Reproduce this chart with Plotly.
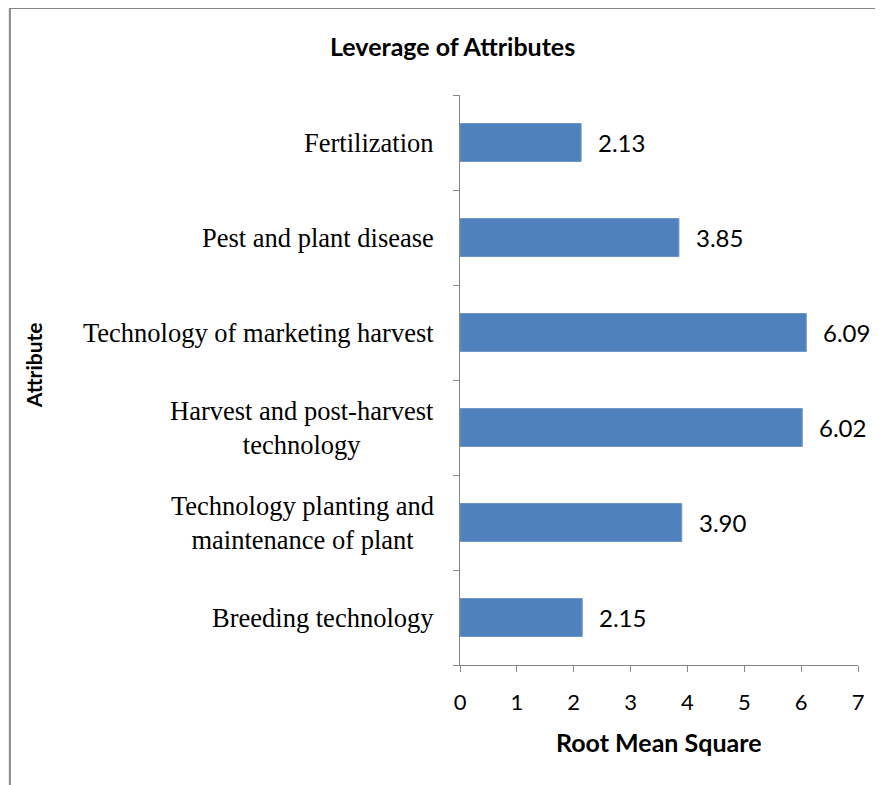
import plotly.graph_objects as go

categories = ["Breeding technology",
              "Technology planting and<br>maintenance of plant",
              "Harvest and post-harvest<br>technology",
              "Technology of marketing harvest",
              "Pest and plant disease",
              "Fertilization"]
values = [2.15, 3.90, 6.02, 6.09, 3.85, 2.13]
value_labels = ["2.15", "3.90", "6.02", "6.09", "3.85", "2.13"]
x_ticks = [0, 1, 2, 3, 4, 5, 6, 7]

AX = "#868686"
SANS = "Lato, Carlito, Calibri, sans-serif"
SERIF = "Liberation Serif, Times New Roman, serif"

fig = go.Figure()
fig.add_trace(go.Bar(
    y=categories, x=values, orientation="h", width=0.4,
    marker=dict(color="#4F81BD", line=dict(color="#6E96CA", width=1)),
    hoverinfo="skip",
))

annotations = []
for c, v, t in zip(categories, values, value_labels):
    annotations.append(dict(x=v, y=c, xref="x", yref="y", text=t, showarrow=False,
                            xanchor="left", xshift=15,
                            font=dict(family=SANS, size=24, color="#000")))
    annotations.append(dict(x=0, y=c, xref="paper", yref="y", text=c, showarrow=False,
                            xanchor="right", align="center", xshift=-24,
                            font=dict(family=SERIF, size=26.5, color="#000")))

annotations.append(dict(x=-0.0176, y=1.086, xref="paper", yref="paper",
                        text="<b>Leverage of Attributes</b>", showarrow=False,
                        xanchor="center", yanchor="middle",
                        font=dict(family=SANS, size=25, color="#000")))
annotations.append(dict(x=0.5, y=-0.135, xref="paper", yref="paper",
                        text="<b>Root Mean Square</b>", showarrow=False,
                        xanchor="center", yanchor="middle",
                        font=dict(family=SANS, size=25, color="#000")))
annotations.append(dict(x=-1.073, y=0.526, xref="paper", yref="paper",
                        text="<b>Attribute</b>", showarrow=False, textangle=-90,
                        xanchor="center", yanchor="middle",
                        font=dict(family=SANS, size=21, color="#000")))

fig.update_layout(
    width=875, height=777,
    margin=dict(l=452, r=25, t=87, b=120),
    paper_bgcolor="white", plot_bgcolor="white",
    showlegend=False,
    bargap=0.6,
    annotations=annotations,
    shapes=[dict(type="rect", xref="paper", yref="paper",
                 x0=-1.131, x1=1.1, y0=-0.25, y1=1.1526,
                 line=dict(color="#878787", width=2), fillcolor="rgba(0,0,0,0)",
                 layer="below")],
    xaxis=dict(range=[0, 7], tickvals=x_ticks, ticktext=[str(v) for v in x_ticks],
               showgrid=False, zeroline=False, showline=True, linecolor=AX, linewidth=1,
               ticks="outside", ticklen=6, tickcolor=AX, ticklabelstandoff=12,
               tickfont=dict(family=SANS, size=22, color="#000")),
    yaxis=dict(type="category", categoryorder="array", categoryarray=categories,
               range=[-0.5, 5.5], showgrid=False, zeroline=False,
               showline=True, linecolor=AX, linewidth=1,
               ticks="outside", ticklen=6, tickcolor=AX, tickson="boundaries",
               showticklabels=False),
)

fig.write_html("out.html")
